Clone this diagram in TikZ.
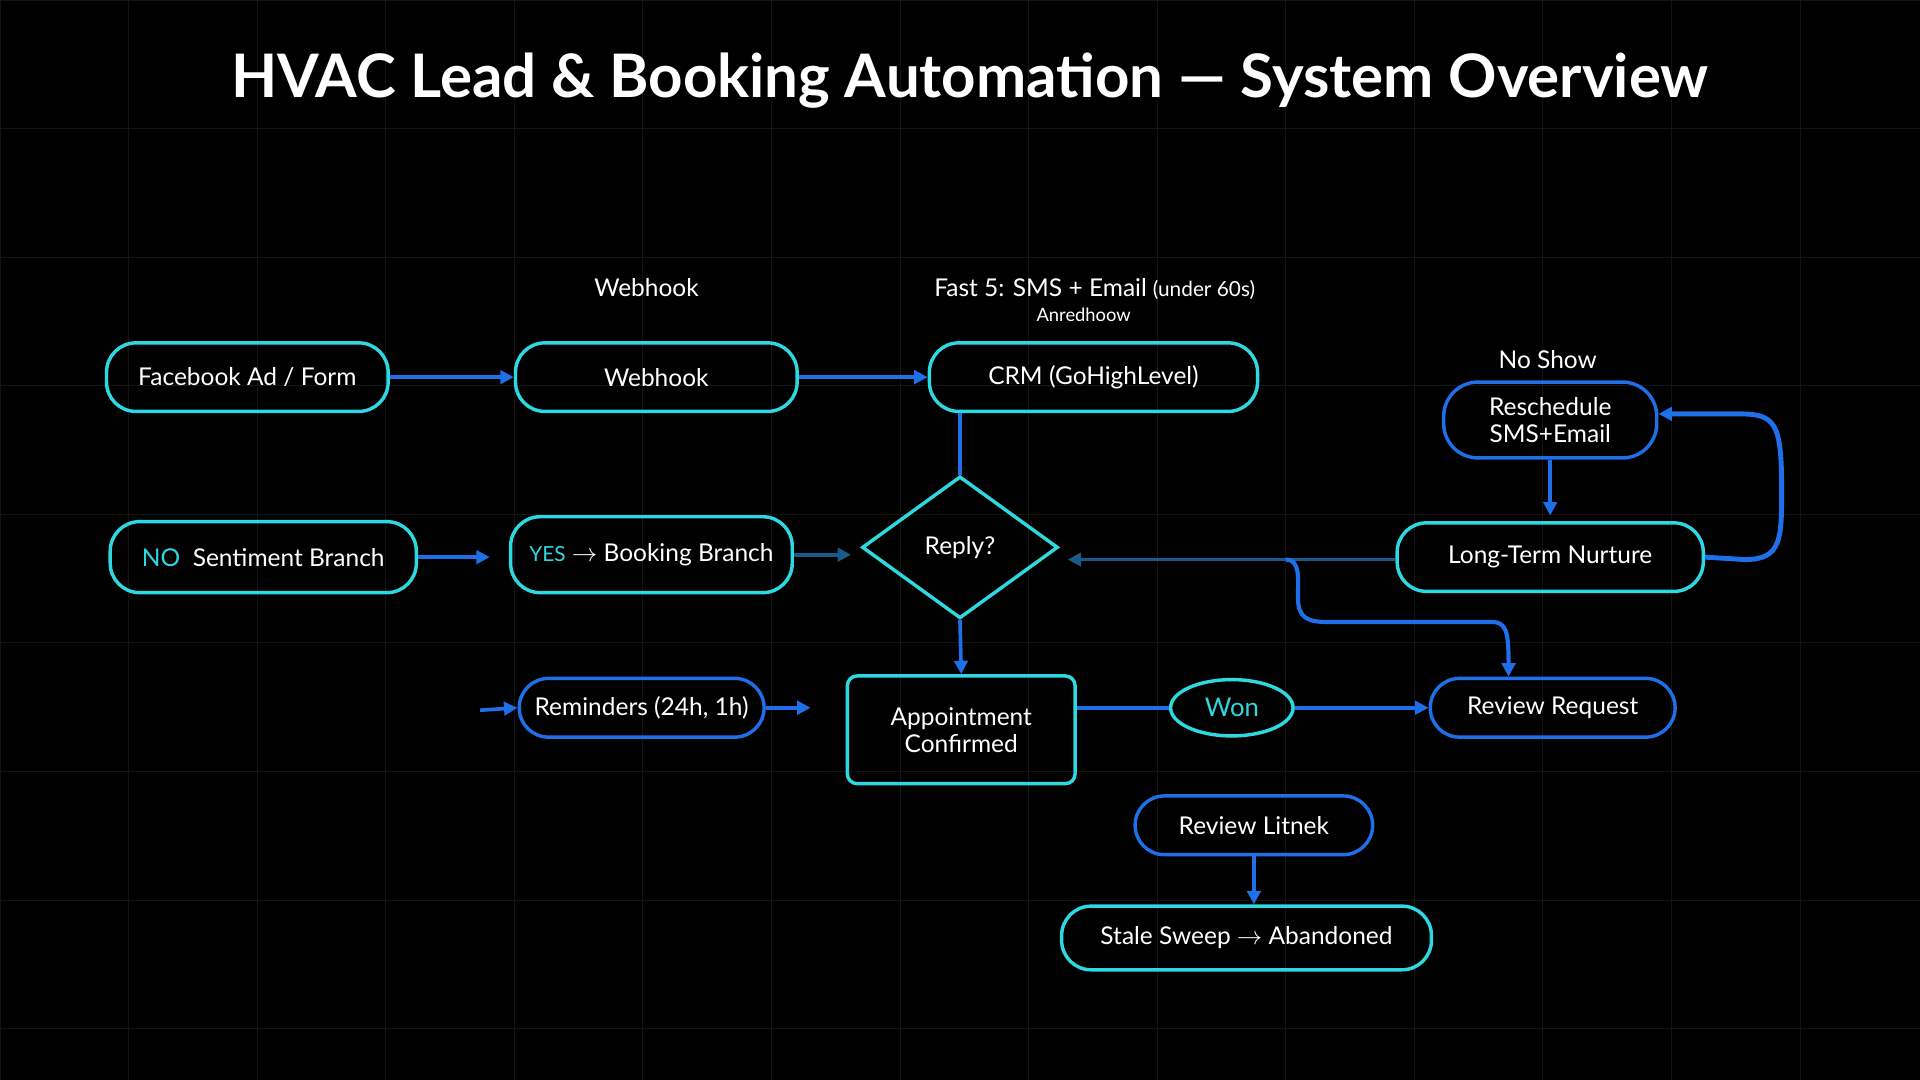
\documentclass[tikz,border=0pt]{standalone}
\usepackage{fontspec}
\setmainfont{Lato}
\usetikzlibrary{shapes.geometric,arrows.meta}
\definecolor{cy}{HTML}{2ED8E0}
\definecolor{bl}{HTML}{1E6FE8}
\definecolor{dim}{HTML}{1A5A8A}
\definecolor{grid}{HTML}{121418}
\begin{document}
\begin{tikzpicture}[x=1pt,y=-1pt,
 pill/.style={draw=#1,line width=2.8pt,rounded corners=24pt,text=white,font=\fontsize{20}{23}\selectfont,align=center,inner sep=0pt},
 arr/.style={draw=bl,line width=3pt,-{Triangle[length=11pt,width=11pt]}},
 ln/.style={draw=bl,line width=3pt},
 lab/.style={text=white,font=\fontsize{20}{23}\selectfont}]
\fill[black] (0,0) rectangle (1568,882);
\useasboundingbox (0,0) rectangle (1568,882);
\foreach \x in {0,105,...,1568} \draw[grid,line width=0.8pt] (\x,0)--(\x,882);
\foreach \y in {0,105,...,882} \draw[grid,line width=0.8pt] (0,\y)--(1568,\y);
\node[text=white,font=\fontsize{49}{55}\selectfont\bfseries] (title) at (792,66) {HVAC Lead \& Booking Automation — System Overview};
\node[lab] (l1) at (528,235) {Webhook};
\node[lab] (l2) at (894,236) {Fast 5: SMS + Email {\fontsize{17}{19}\selectfont(under 60s)}};
\node[text=white,font=\fontsize{15}{17}\selectfont] (l3) at (885,257) {Anredhoow};
\node[lab] (l4) at (1264,294) {No Show};
\node[pill=cy,minimum width=230,minimum height=56] (fb) at (202,308) {Facebook Ad / Form};
\node[pill=cy,minimum width=230,minimum height=56] (wh) at (536,308) {Webhook};
\node[pill=cy,minimum width=268,minimum height=56] (crm) at (893,308) {CRM (GoHighLevel)};
\node[pill=cy,minimum width=250,minimum height=58] (no) at (215,455) {{\color{cy}NO}\ \ Sentiment Branch};
\node[pill=cy,minimum width=230,minimum height=62] (yes) at (532,453) {{\color{cy}\fontsize{17}{19}\selectfont YES} $\to$ Booking Branch};
\node[diamond,draw=cy,line width=2.8pt,minimum width=160,minimum height=116,aspect=1.38,inner sep=0pt,text=white,font=\fontsize{20}{23}\selectfont] (rep) at (784,447) {Reply?};
\node[pill=cy,minimum width=250,minimum height=56] (ltn) at (1266,455) {Long-Term Nurture};
\node[pill=bl,minimum width=174,minimum height=62,rounded corners=28pt,font=\fontsize{20}{22}\selectfont] (res) at (1266,343) {Reschedule\\SMS+Email};
\node[pill=bl,minimum width=200,minimum height=48] (rem) at (524,578) {Reminders (24h, 1h)};
\node[pill=cy,minimum width=186,minimum height=88,rounded corners=8pt,font=\fontsize{20}{22}\selectfont] (apt) at (785,596) {Appointment\\Confirmed};
\node[ellipse,draw=cy,line width=2.8pt,minimum width=100,minimum height=46,inner sep=0pt,text=cy,font=\fontsize{21}{23}\selectfont] (won) at (1006,578) {Won};
\node[pill=bl,minimum width=200,minimum height=48] (rr) at (1268,578) {Review Request};
\node[pill=bl,minimum width=194,minimum height=48] (rl) at (1024,674) {Review Litnek};
\node[pill=cy,minimum width=302,minimum height=52] (ss) at (1018,766) {Stale Sweep $\to$ Abandoned};
\coordinate (s1) at (392,580);
\coordinate (e1) at (662,578);
\draw[arr] (fb) -- (wh);
\draw[arr] (wh) -- (crm);
\draw[ln] (crm.south -| rep.north) -- (rep.north);
\draw[arr] (no) -- (400,455);
\draw[arr,draw=dim] (yes) -- (695,453);
\draw[arr] (rep.south) -- (apt.north);
\draw[arr,draw=dim] (ltn.west |- 0,457) -- (872,457);
\draw[arr,line width=3.4pt] (1050,457) .. controls (1062,457) and (1060,472) .. (1060,488) .. controls (1060,505) and (1068,508) .. (1085,508) -- (1218,508) .. controls (1230,508) and (1232,515) .. (rr.north -| 1232,0);
\draw[arr] (res.south) -- (1266,421);
\draw[arr,line width=4pt] (ltn.east) -- (1425,457) .. controls (1455,457) and (1455,440) .. (1455,400) .. controls (1455,345) and (1450,338) .. (1420,338) -- (res.east |- 0,338);
\draw[arr] (s1) -- (rem.west);
\draw[arr] (rem.east) -- (e1);
\draw[ln] (apt.east |- won) -- (won.west);
\draw[arr] (won) -- (rr);
\draw[arr] (rl.south) -- (ss.north -| rl.south);
\end{tikzpicture}
\end{document}
